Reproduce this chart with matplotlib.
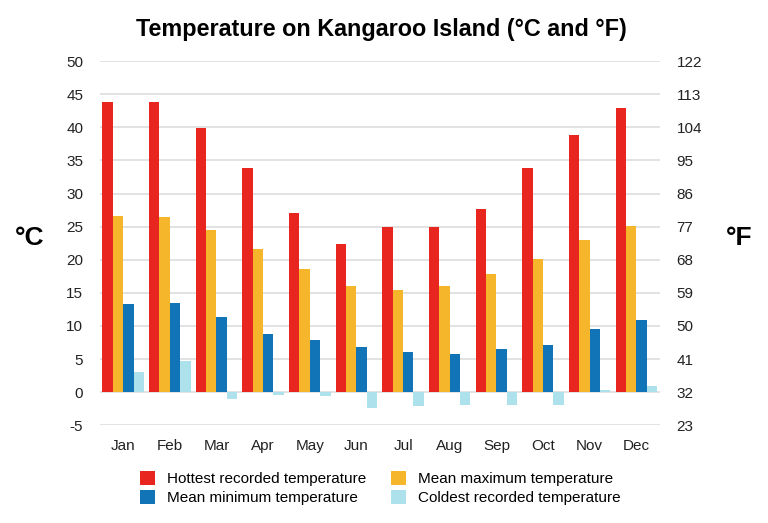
import matplotlib
matplotlib.use('Agg')
import matplotlib.pyplot as plt
import numpy as np

plt.rcParams['font.family'] = ['Liberation Sans', 'DejaVu Sans']
plt.rcParams['axes.unicode_minus'] = False

meses = ['Jan', 'Feb', 'Mar', 'Apr', 'May', 'Jun', 'Jul', 'Aug', 'Sep', 'Oct', 'Nov', 'Dec']
hottest = [43.8, 43.8, 39.9, 33.9, 27.1, 22.4, 25.0, 25.0, 27.7, 33.8, 38.8, 43.0]
mean_max = [26.6, 26.4, 24.5, 21.6, 18.6, 16.0, 15.4, 16.0, 17.9, 20.1, 23.0, 25.1]
mean_min = [13.3, 13.5, 11.3, 8.8, 7.9, 6.8, 6.0, 5.7, 6.5, 7.1, 9.6, 10.9]
coldest = [3.1, 4.7, -1.0, -0.4, -0.6, -2.4, -2.1, -1.9, -2.0, -2.0, 0.3, 0.9]

series = [
    ('Hottest recorded temperature', hottest, '#E8261F'),
    ('Mean maximum temperature', mean_max, '#F6B62C'),
    ('Mean minimum temperature', mean_min, '#1174B6'),
    ('Coldest recorded temperature', coldest, '#ADE1EB'),
]

fig = plt.figure(figsize=(7.68, 5.23), dpi=100)
ax = fig.add_axes([0.130, 0.187, 0.729, 0.696])

x = np.arange(len(meses))
ancho = 0.222
barras = []
for k, (nombre, vals, color) in enumerate(series):
    b = ax.bar(x + (k - 1.5) * ancho, vals, ancho, color=color, label=nombre, zorder=3)
    barras.append(b)

ax.set_xlim(-0.5, len(meses) - 0.5)
ax.set_ylim(-5, 50)
ax.set_yticks(range(-5, 51, 5))
ax.set_xticks(x)
ax.set_xticklabels(meses)
ax.grid(axis='y', color='#dddddd', lw=1.2, zorder=0)
for s in ax.spines.values():
    s.set_visible(False)
ax.tick_params(length=0, labelsize=11, colors='#222222')
ax.tick_params(axis='x', pad=10)
ax.tick_params(axis='y', pad=12)

ax2 = ax.twinx()
ax2.set_ylim(-5 * 1.8 + 32, 50 * 1.8 + 32)
ax2.set_yticks(range(23, 123, 9))
for s in ax2.spines.values():
    s.set_visible(False)
ax2.tick_params(length=0, labelsize=11, colors='#222222', pad=12)

fig.text(0.038, 0.545, '°C', fontsize=19, fontweight='bold', ha='center', va='center')
fig.text(0.963, 0.545, '°F', fontsize=19, fontweight='bold', ha='center', va='center')
fig.text(0.497, 0.943, 'Temperature on Kangaroo Island (°C and °F)', fontsize=16.8,
         fontweight='bold', ha='center', va='center')

# legend fills column by column: hottest/min on the left, max/coldest on the right
orden_leg = [0, 2, 1, 3]
fig.legend([barras[i] for i in orden_leg], [series[i][0] for i in orden_leg],
           loc='center', bbox_to_anchor=(0.495, 0.067), ncol=2, frameon=False,
           fontsize=11, handlelength=1.0, handleheight=1.0, columnspacing=1.6,
           labelspacing=0.25, handletextpad=0.8)

fig.savefig('out.png', dpi=100)
